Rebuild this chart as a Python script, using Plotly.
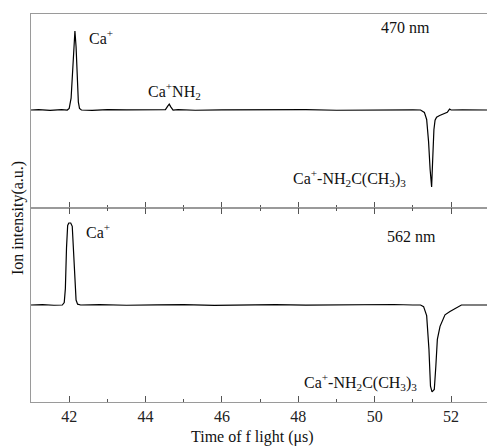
import plotly.graph_objects as go
from plotly.subplots import make_subplots

# Time of flight (us) and intensity (a.u.)
t_470 = [41.0, 41.2, 41.5, 41.8, 41.95, 42.0, 42.05, 42.09, 42.12, 42.15, 42.18, 42.21, 42.24, 42.27, 42.32,
         42.6, 43.0, 43.5, 44.0, 44.4, 44.52, 44.58, 44.62, 44.66, 44.72, 44.85, 45.3, 46.0, 46.8, 47.5,
         48.2, 49.0, 49.8, 50.5, 51.0, 51.2, 51.3, 51.36, 51.41, 51.45, 51.49, 51.52, 51.55, 51.58, 51.62,
         51.7, 51.8, 51.9, 51.96, 52.0, 52.3, 52.6, 52.94]
i_470 = [0.0, 0.005, -0.004, 0.006, 0.0, 0.02, 0.15, 0.55, 0.85, 1.0, 0.8, 0.4, 0.1, 0.02, 0.0,
         -0.004, 0.005, 0.003, 0.008, 0.004, 0.005, 0.05, 0.075, 0.04, 0.0, 0.004, -0.003, 0.003, 0.006, 0.0,
         0.004, -0.003, 0.002, 0.0, 0.003, 0.0, -0.03, -0.12, -0.4, -0.75, -0.975, -0.6, -0.25, -0.13, -0.09,
         -0.07, -0.05, -0.03, 0.012, 0.0, 0.002, -0.002, 0.0]

t_562 = [41.0, 41.3, 41.6, 41.82, 41.87, 41.9, 41.93, 41.96, 41.99, 42.04, 42.08, 42.11, 42.14, 42.18, 42.22,
         42.3, 42.8, 43.5, 44.3, 45.0, 45.8, 46.6, 47.4, 48.2, 49.0, 49.8, 50.5, 51.0, 51.2, 51.28, 51.36,
         51.42, 51.46, 51.5, 51.56, 51.6, 51.64, 51.71, 51.84, 51.97, 52.14, 52.27, 52.6, 52.94]
i_562 = [0.0, 0.005, -0.003, 0.0, 0.03, 0.2, 0.7, 0.97, 1.0, 1.0, 0.96, 0.7, 0.3, 0.06, 0.01,
         0.0, 0.004, -0.003, 0.002, 0.005, -0.004, 0.0, 0.004, -0.002, 0.003, 0.0, 0.006, 0.0, 0.0, -0.02, -0.13,
         -0.54, -0.99, -1.06, -1.03, -0.75, -0.42, -0.26, -0.12, -0.08, -0.04, 0.0, 0.0, 0.0]

x_ticks = [42, 44, 46, 48, 50, 52]

FONT = "Liberation Serif, Times New Roman, serif"
AX_LINE = "#9a9a9a"
TICK_C = "#555555"

fig = make_subplots(rows=2, cols=1, shared_xaxes=True, vertical_spacing=0)
fig.add_trace(go.Scatter(x=t_470, y=i_470, mode="lines", line=dict(color="black", width=1.2),
                         showlegend=False), row=1, col=1)
fig.add_trace(go.Scatter(x=t_562, y=i_562, mode="lines", line=dict(color="black", width=1.2),
                         showlegend=False), row=2, col=1)

xcommon = dict(range=[41, 52.94], tickvals=x_ticks, showgrid=False, zeroline=False,
               showline=True, linecolor=AX_LINE, linewidth=1.2,
               ticks="inside", ticklen=6, tickwidth=1, tickcolor=TICK_C,
               minor=dict(dtick=1, tick0=41, ticks="inside", ticklen=3, tickcolor=TICK_C, showgrid=False))
fig.update_xaxes(**xcommon, mirror=True, showticklabels=False, row=1, col=1)
fig.update_xaxes(**xcommon, mirror="ticks", showticklabels=True,
                 tickfont=dict(family=FONT, size=16, color="#222"), row=2, col=1)

ycommon = dict(showgrid=False, zeroline=False, showticklabels=False, ticks="",
               showline=True, linecolor=AX_LINE, linewidth=1.2)
fig.update_yaxes(**ycommon, range=[-1.24, 1.215], row=1, col=1)
fig.update_yaxes(**ycommon, range=[-1.183, 1.183], row=2, col=1)

ann_font = dict(family=FONT, size=16, color="#111")
labels = [
    ("x", "y", 42.47, 0.92, "Ca<sup>+</sup>"),
    ("x", "y", 50.1, 1.04, "470 nm"),
    ("x", "y", 44.02, 0.24, "Ca<sup>+</sup>NH<sub>2</sub>"),
    ("x", "y", 47.82, -0.86, "Ca<sup>+</sup>-NH<sub>2</sub>C(CH<sub>3</sub>)<sub>3</sub>"),
    ("x2", "y2", 42.38, 0.9, "Ca<sup>+</sup>"),
    ("x2", "y2", 50.26, 0.83, "562 nm"),
    ("x2", "y2", 48.1, -0.94, "Ca<sup>+</sup>-NH<sub>2</sub>C(CH<sub>3</sub>)<sub>3</sub>"),
]
for xr, yr, xv, yv, txt in labels:
    fig.add_annotation(xref=xr, yref=yr, x=xv, y=yv, text=txt, showarrow=False,
                       xanchor="left", yanchor="middle", font=ann_font)

fig.add_annotation(xref="paper", yref="paper", x=(252 - 31) / 456, y=-(437 - 402) / 388,
                   text="Time of f light (μs)", showarrow=False, xanchor="center", yanchor="middle",
                   font=dict(family=FONT, size=16, color="#111"))
fig.add_annotation(xref="paper", yref="paper", x=-(31 - 18) / 456, y=(402 - 218) / 388,
                   text="Ion intensity(a.u.)", showarrow=False, textangle=-90,
                   xanchor="center", yanchor="middle",
                   font=dict(family=FONT, size=16, color="#111"))

fig.update_layout(width=487, height=447, margin=dict(l=31, r=0, t=14, b=45),
                  paper_bgcolor="white", plot_bgcolor="white", font=dict(family=FONT))

fig.write_html("out.html", config={"displayModeBar": False},
               post_script="document.body.style.margin='0';document.body.style.overflow='hidden';")
